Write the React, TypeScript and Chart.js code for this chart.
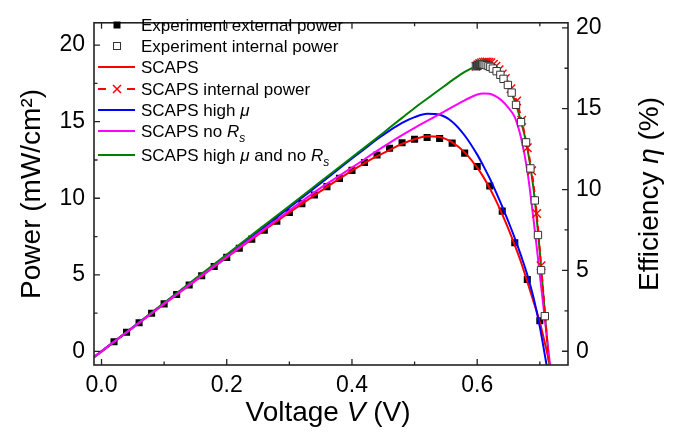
import React, { useEffect, useRef } from "react";
import { Chart, registerables } from "chart.js";

Chart.register(...registerables);

// ---------------- data ----------------
const expVoltage = [
  0.02, 0.04, 0.06, 0.08, 0.1, 0.12, 0.14, 0.16, 0.18, 0.2, 0.22, 0.24, 0.26, 0.28, 0.3, 0.32, 0.34, 0.36,
  0.38, 0.4, 0.42, 0.44, 0.46, 0.48, 0.5, 0.52, 0.54, 0.56, 0.58, 0.6, 0.62, 0.64, 0.66, 0.68, 0.7,
];
const expExternalPower = [
  0.63, 1.25, 1.87, 2.49, 3.1, 3.72, 4.33, 4.94, 5.54, 6.14, 6.74, 7.33, 7.92, 8.5, 9.08, 9.65, 10.21, 10.76,
  11.3, 11.82, 12.33, 12.82, 13.27, 13.62, 13.85, 13.97, 13.9, 13.6, 12.95, 12.08, 10.8, 9.16, 7.1, 4.7, 2.0,
];

const expInternalVoltage = [
  0.598, 0.6, 0.601, 0.602, 0.603, 0.604, 0.605, 0.606, 0.607, 0.608, 0.61, 0.612, 0.615, 0.618, 0.621, 0.625,
  0.631, 0.637, 0.642, 0.649, 0.655, 0.662, 0.67, 0.678, 0.685, 0.692, 0.697, 0.702, 0.708,
];
const expInternalPower = [
  18.62, 18.66, 18.68, 18.7, 18.72, 18.73, 18.74, 18.75, 18.75, 18.75, 18.74, 18.72, 18.69, 18.64, 18.58, 18.47,
  18.3, 18.06, 17.8, 17.4, 16.9, 16.1, 14.97, 13.65, 11.95, 9.86, 7.6, 5.3, 2.3,
];

const simVoltage = [
  -0.012, 0, 0.05, 0.1, 0.15, 0.2, 0.25, 0.3, 0.35, 0.4, 0.42, 0.44, 0.46, 0.48, 0.5, 0.52, 0.54, 0.56, 0.58,
  0.6, 0.61, 0.62, 0.63, 0.64, 0.65, 0.66, 0.67, 0.68, 0.69, 0.7, 0.71, 0.72,
];
const scapsPower = [
  -0.37, 0, 1.55, 3.09, 4.62, 6.13, 7.62, 9.07, 10.47, 11.8, 12.3, 12.75, 13.15, 13.55, 13.85, 14.05, 14.0,
  13.65, 13.0, 12.0, 11.38, 10.65, 9.85, 8.95, 7.98, 6.93, 5.82, 4.55, 3.25, 1.9, 0.2, -1.6,
];
const scapsHighMuPower = [
  -0.38, 0, 1.57, 3.14, 4.7, 6.26, 7.8, 9.4, 10.98, 12.6, 13.22, 13.85, 14.42, 14.92, 15.3, 15.52, 15.45, 15.0,
  14.1, 12.85, 12.1, 11.3, 10.4, 9.45, 8.45, 7.4, 6.25, 5.0, 3.5, 1.6, -0.7, -3.0,
];
const scapsNoRsPower = [
  -0.37, 0, 1.55, 3.1, 4.64, 6.17, 7.69, 9.2, 10.68, 12.0, 12.55, 13.1, 13.62, 14.12, 14.6, 15.05, 15.5, 15.95,
  16.4, 16.78, 16.85, 16.82, 16.65, 16.35, 15.9, 15.3, 13.95, 11.8, 8.6, 5.0, 1.4, -2.2,
];
const scapsHighMuNoRsPower = [
  -0.38, 0, 1.58, 3.17, 4.75, 6.33, 7.92, 9.5, 11.09, 12.68, 13.31, 13.95, 14.6, 15.25, 15.9, 16.5, 17.1, 17.7,
  18.25, 18.65, 18.75, 18.62, 18.35, 17.95, 17.3, 16.35, 15.0, 13.3, 10.6, 6.5, 1.5, -3.0,
];

const scapsInternalVoltage = [
  0.598, 0.601, 0.604, 0.607, 0.61, 0.613, 0.616, 0.619, 0.622, 0.626, 0.63, 0.635, 0.64, 0.645, 0.654, 0.663,
  0.671, 0.68, 0.687, 0.695, 0.702, 0.708, 0.714, 0.72,
];
const scapsInternalPower = [
  18.62, 18.72, 18.8, 18.85, 18.88, 18.9, 18.9, 18.88, 18.85, 18.76, 18.63, 18.4, 18.12, 17.82, 17.15, 16.35,
  15.1, 13.3, 11.8, 9.0, 5.6, 2.6, -0.6, -3.6,
];
const scapsInternalMarked = [
  1, 1, 1, 1, 1, 1, 1, 1, 1, 1, 1, 1, 1, 1, 1, 1, 1, 1, 1, 1, 1, 0, 0, 0,
];

const voltageTicks = [0, 0.2, 0.4, 0.6];
const voltageMinorTicks = [0.1, 0.3, 0.5, 0.7];
const powerTicks = [0, 5, 10, 15, 20];
const powerMinorTicks = [2.5, 7.5, 12.5, 17.5];
const efficiencyTicks = [0, 5, 10, 15, 20];
const efficiencyMinorTicks = [2.5, 7.5, 12.5, 17.5];

const seriesLabels = [
  "Experiment external power",
  "Experiment internal power",
  "SCAPS",
  "SCAPS internal power",
  "SCAPS high μ",
  "SCAPS no Rs",
  "SCAPS high μ and no Rs",
];
const seriesColors = ["#000000", "#333333", "#ff0000", "#ff0000", "#0000ff", "#ff00ff", "#008000"];

// rich legend text segments (i: italic, sub: subscript)
type Seg = { t: string; i?: boolean; sub?: boolean };
const legendRich: Seg[][] = [
  [{ t: "Experiment external power" }],
  [{ t: "Experiment internal power" }],
  [{ t: "SCAPS" }],
  [{ t: "SCAPS internal power" }],
  [{ t: "SCAPS high " }, { t: "μ", i: true }],
  [{ t: "SCAPS no " }, { t: "R", i: true }, { t: "s", i: true, sub: true }],
  [{ t: "SCAPS high " }, { t: "μ", i: true }, { t: " and no " }, { t: "R", i: true }, { t: "s", i: true, sub: true }],
];
const xTitle: Seg[] = [{ t: "Voltage " }, { t: "V", i: true }, { t: " (V)" }];
const yTitle: Seg[] = [{ t: "Power (mW/cm²)" }];
const y2Title: Seg[] = [{ t: "Efficiency " }, { t: "η", i: true }, { t: " (%)" }];

// ---------------- helpers ----------------
const FAMILY = "'Liberation Sans', Arial, Helvetica, sans-serif";
const INK = "#222222";

const pts = (xs: number[], ys: number[]) => xs.map((x, i) => ({ x, y: ys[i] }));

function segFont(s: Seg, size: number) {
  const sz = s.sub ? Math.round(size * 0.7) : size;
  return `${s.i ? "italic " : ""}${sz}px ${FAMILY}`;
}
function segsWidth(ctx: CanvasRenderingContext2D, segs: Seg[], size: number) {
  let w = 0;
  for (const s of segs) {
    ctx.font = segFont(s, size);
    w += ctx.measureText(s.t).width;
  }
  return w;
}
function drawSegs(ctx: CanvasRenderingContext2D, segs: Seg[], x: number, y: number, size: number) {
  let cx = x;
  for (const s of segs) {
    ctx.font = segFont(s, size);
    ctx.fillText(s.t, cx, y + (s.sub ? size * 0.28 : 0));
    cx += ctx.measureText(s.t).width;
  }
}

const chromePlugin = {
  id: "chrome",
  afterDatasetsDraw(chart: any) {
    const { ctx, chartArea: a, scales } = chart;
    const sx = scales.x;
    const sy = scales.y;
    const sy2 = scales.y2;
    ctx.save();
    ctx.strokeStyle = INK;
    ctx.lineWidth = 1.6;
    ctx.setLineDash([]);
    ctx.strokeRect(a.left, a.top, a.right - a.left, a.bottom - a.top);

    const major = 6;
    const minor = 3.5;
    ctx.lineWidth = 1.3;
    ctx.beginPath();
    const vTick = (v: number, len: number) => {
      const px = sx.getPixelForValue(v);
      ctx.moveTo(px, a.bottom);
      ctx.lineTo(px, a.bottom - len);
      ctx.moveTo(px, a.top);
      ctx.lineTo(px, a.top + len);
    };
    voltageTicks.forEach((v) => vTick(v, major));
    voltageMinorTicks.forEach((v) => vTick(v, minor));
    const lTick = (v: number, len: number) => {
      const py = sy.getPixelForValue(v);
      ctx.moveTo(a.left, py);
      ctx.lineTo(a.left + len, py);
    };
    powerTicks.forEach((v) => lTick(v, major));
    powerMinorTicks.forEach((v) => lTick(v, minor));
    const rTick = (v: number, len: number) => {
      const py = sy2.getPixelForValue(v);
      ctx.moveTo(a.right, py);
      ctx.lineTo(a.right - len, py);
    };
    efficiencyTicks.forEach((v) => rTick(v, major));
    efficiencyMinorTicks.forEach((v) => rTick(v, minor));
    ctx.stroke();

    // axis titles
    ctx.fillStyle = "#000";
    ctx.textBaseline = "alphabetic";
    ctx.textAlign = "left";
    const TS = 28;
    const xw = segsWidth(ctx, xTitle, TS);
    drawSegs(ctx, xTitle, (a.left + a.right) / 2 - 3 - xw / 2, 421, TS);

    const cy = (a.top + a.bottom) / 2;
    ctx.save();
    ctx.translate(40, cy);
    ctx.rotate(-Math.PI / 2);
    const yw = segsWidth(ctx, yTitle, TS);
    drawSegs(ctx, yTitle, -yw / 2, 0, TS);
    ctx.restore();

    ctx.save();
    ctx.translate(658, cy);
    ctx.rotate(-Math.PI / 2);
    const y2w = segsWidth(ctx, y2Title, TS);
    drawSegs(ctx, y2Title, -y2w / 2, 0, TS);
    ctx.restore();

    // legend
    const rows = [25, 46, 67, 89, 110, 131, 155];
    const LS = 17;
    const x0 = 98;
    const x1 = 135;
    const xm = 117;
    rows.forEach((ry, i) => {
      ctx.save();
      ctx.strokeStyle = seriesColors[i];
      ctx.lineWidth = 2;
      if (i === 0) {
        ctx.fillStyle = "#000";
        ctx.fillRect(xm - 3.5, ry - 3.5, 7, 7);
      } else if (i === 1) {
        ctx.fillStyle = "#fff";
        ctx.strokeStyle = "#333";
        ctx.lineWidth = 1;
        ctx.fillRect(xm - 3.5, ry - 3.5, 7, 7);
        ctx.strokeRect(xm - 3.5, ry - 3.5, 7, 7);
      } else if (i === 3) {
        ctx.beginPath();
        ctx.moveTo(x0, ry);
        ctx.lineTo(x0 + 8, ry);
        ctx.moveTo(x1 - 8, ry);
        ctx.lineTo(x1, ry);
        ctx.stroke();
        ctx.lineWidth = 1.5;
        ctx.beginPath();
        ctx.moveTo(xm - 4, ry - 4);
        ctx.lineTo(xm + 4, ry + 4);
        ctx.moveTo(xm - 4, ry + 4);
        ctx.lineTo(xm + 4, ry - 4);
        ctx.stroke();
      } else {
        ctx.beginPath();
        ctx.moveTo(x0, ry);
        ctx.lineTo(x1, ry);
        ctx.stroke();
      }
      ctx.restore();
      ctx.fillStyle = "#000";
      drawSegs(ctx, legendRich[i], 141, ry + 6, LS);
    });
    ctx.restore();
  },
};

export default function App() {
  const ref = useRef<HTMLCanvasElement | null>(null);
  useEffect(() => {
    document.body.style.margin = "0";
    const canvas = ref.current;
    if (!canvas) return;
    Chart.defaults.font.family = FAMILY;
    const lineBase = {
      showLine: true,
      pointRadius: 0,
      borderWidth: 2,
      cubicInterpolationMode: "monotone" as const,
      fill: false,
      clip: 0,
    };
    const chart = new Chart(canvas, {
      type: "scatter",
      data: {
        datasets: [
          {
            label: seriesLabels[1],
            data: pts(expInternalVoltage, expInternalPower),
            showLine: false,
            pointStyle: "rect",
            pointRadius: 5.2,
            backgroundColor: "#ffffff",
            borderColor: "#333333",
            borderWidth: 1,
            order: 1,
          },
          {
            ...lineBase,
            label: seriesLabels[3],
            data: pts(scapsInternalVoltage, scapsInternalPower),
            borderColor: "#ff0000",
            borderDash: [6, 4],
            pointStyle: "crossRot",
            pointRadius: scapsInternalMarked.map((m) => (m ? 6 : 0)),
            pointBorderColor: "#ff0000",
            pointBorderWidth: 1.4,
            order: 2,
          },
          {
            ...lineBase,
            label: seriesLabels[5],
            data: pts(simVoltage, scapsNoRsPower),
            borderColor: "#ff00ff",
            order: 3,
          },
          {
            ...lineBase,
            label: seriesLabels[6],
            data: pts(simVoltage, scapsHighMuNoRsPower),
            borderColor: "#008000",
            order: 4,
          },
          {
            ...lineBase,
            label: seriesLabels[4],
            data: pts(simVoltage, scapsHighMuPower),
            borderColor: "#0000ff",
            order: 5,
          },
          {
            ...lineBase,
            label: seriesLabels[2],
            data: pts(simVoltage, scapsPower),
            borderColor: "#ff0000",
            order: 6,
          },
          {
            label: seriesLabels[0],
            data: pts(expVoltage, expExternalPower),
            showLine: false,
            pointStyle: "rect",
            pointRadius: 5,
            backgroundColor: "#000000",
            borderColor: "#000000",
            borderWidth: 0,
            order: 7,
          },
        ] as any,
      },
      options: {
        responsive: false,
        maintainAspectRatio: false,
        devicePixelRatio: 1,
        animation: false,
        events: [],
        layout: { padding: { top: 15, left: 0, right: 0, bottom: 0 } },
        plugins: { legend: { display: false }, tooltip: { enabled: false }, title: { display: false } },
        scales: {
          x: {
            type: "linear",
            position: "bottom",
            min: -0.012,
            max: 0.745,
            afterBuildTicks: (s: any) => {
              s.ticks = voltageTicks.map((v) => ({ value: v }));
            },
            afterFit: (s: any) => {
              s.height = 76;
            },
            ticks: {
              callback: (v: any) => Number(v).toFixed(1),
              font: { size: 23, family: FAMILY },
              color: "#000",
              padding: 7,
              maxRotation: 0,
              autoSkip: false,
            },
            grid: { display: false, drawTicks: false },
            border: { display: false },
          },
          y: {
            type: "linear",
            position: "left",
            min: -0.89,
            max: 21.46,
            afterBuildTicks: (s: any) => {
              s.ticks = powerTicks.map((v) => ({ value: v }));
            },
            afterFit: (s: any) => {
              s.width = 94;
            },
            ticks: {
              callback: (v: any) => String(v),
              font: { size: 23, family: FAMILY },
              color: "#000",
              padding: 9,
              autoSkip: false,
            },
            grid: { display: false, drawTicks: false },
            border: { display: false },
          },
          y2: {
            type: "linear",
            position: "right",
            min: -0.85,
            max: 20.31,
            afterBuildTicks: (s: any) => {
              s.ticks = efficiencyTicks.map((v) => ({ value: v }));
            },
            afterFit: (s: any) => {
              s.width = 109;
            },
            ticks: {
              callback: (v: any) => String(v),
              font: { size: 23, family: FAMILY },
              color: "#000",
              padding: 8,
              autoSkip: false,
            },
            grid: { display: false, drawTicks: false },
            border: { display: false },
          },
        },
      } as any,
      plugins: [chromePlugin],
    });
    return () => chart.destroy();
  }, []);
  return (
    <div style={{ width: 677, height: 441, background: "#fff" }}>
      <canvas ref={ref} width={677} height={441} style={{ display: "block" }} />
    </div>
  );
}
